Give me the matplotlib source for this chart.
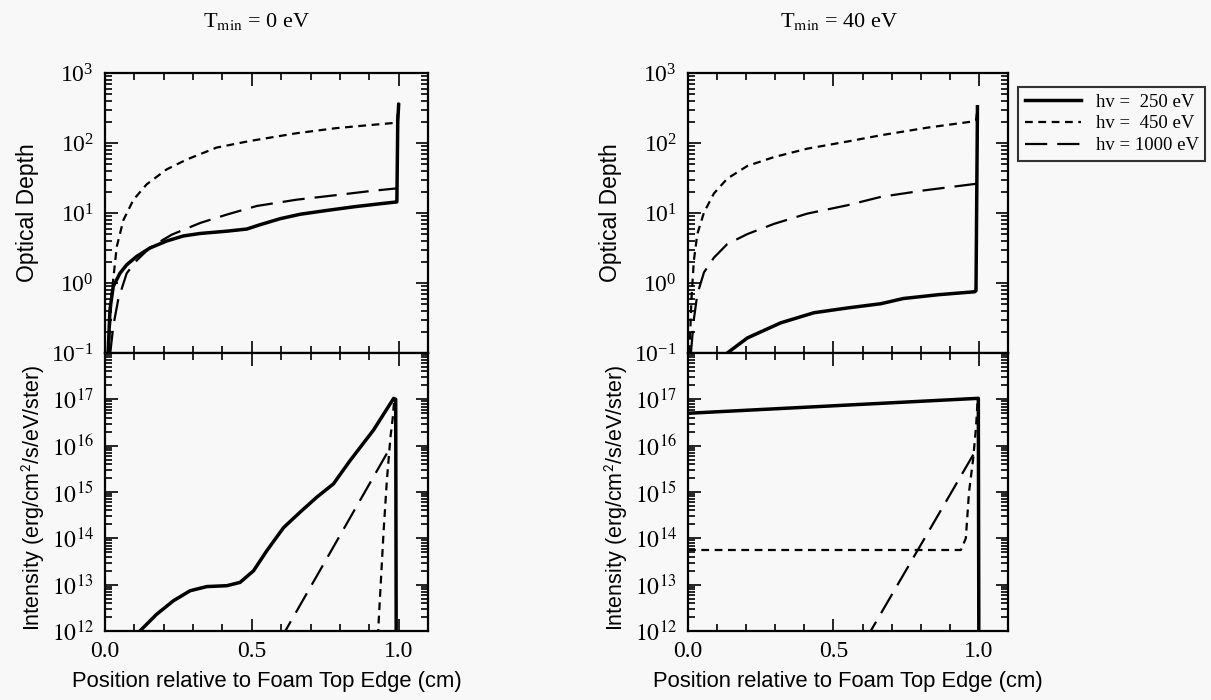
import numpy as np
import matplotlib
matplotlib.use('Agg')
import matplotlib.pyplot as plt
from matplotlib.ticker import LogLocator, MultipleLocator, LogFormatterMathtext, NullFormatter

plt.rcParams['font.family'] = 'serif'
plt.rcParams['font.serif'] = ['Liberation Serif', 'DejaVu Serif']
plt.rcParams['mathtext.fontset'] = 'stix'

# ---- data ----
# T_min = 0 eV, optical depth
x0_tau_250 = [0.006, 0.011, 0.017, 0.028, 0.051, 0.074, 0.108, 0.153, 0.21, 0.267, 0.324, 0.415, 0.483,
              0.528, 0.597, 0.665, 0.75, 0.85, 0.94, 0.994, 0.997, 1.0]
t0_tau_250 = [0.06, 0.11, 0.42, 0.89, 1.38, 1.82, 2.4, 3.16, 3.98, 4.7, 5.1, 5.5, 5.9,
              6.8, 8.3, 9.6, 10.8, 12.3, 13.6, 14.4, 200, 350]
x0_tau_450 = [0.012, 0.023, 0.04, 0.0625, 0.097, 0.142, 0.21, 0.278, 0.38, 0.494, 0.653, 0.787, 0.9, 0.994, 1.0]
t0_tau_450 = [0.1, 0.72, 3.3, 7.9, 15.5, 25.7, 42, 58, 86, 107, 138, 163, 180, 195, 380]
x0_tau_1000 = [0.018, 0.028, 0.045, 0.074, 0.108, 0.153, 0.227, 0.324, 0.415, 0.517, 0.653, 0.787, 0.9, 0.994]
t0_tau_1000 = [0.1, 0.24, 0.58, 1.38, 2.1, 3.2, 4.9, 7.2, 9.5, 12.6, 15.5, 18, 20.5, 22.5]

# T_min = 0 eV, intensity
x0_int_250 = [0.09, 0.119, 0.176, 0.233, 0.29, 0.347, 0.415, 0.46, 0.506, 0.551, 0.608, 0.665, 0.722,
              0.778, 0.835, 0.915, 0.983, 0.99, 0.992]
t0_int_250 = [5e11, 1.0e12, 2.3e12, 4.5e12, 7.4e12, 9.1e12, 9.5e12, 1.12e13, 2.0e13, 5.4e13, 1.7e14,
              3.7e14, 7.8e14, 1.5e15, 4.8e15, 2.2e16, 1.05e17, 1.0e17, 1e11]
x0_int_450 = [0.925, 0.932, 0.949, 0.96, 0.972, 0.98, 0.985]
t0_int_450 = [2e11, 1.6e12, 1.5e14, 1.8e15, 1.5e16, 4.0e16, 1.0e17]
x0_int_1000 = [0.6, 0.614, 0.96, 0.977]
t0_int_1000 = [6e11, 1e12, 6.8e15, 8.7e15]

# T_min = 40 eV, optical depth
x40_tau_250 = [0.12, 0.135, 0.204, 0.319, 0.433, 0.548, 0.663, 0.74, 0.86, 0.986, 0.99, 0.995]
t40_tau_250 = [0.085, 0.1, 0.164, 0.27, 0.376, 0.44, 0.506, 0.6, 0.68, 0.75, 0.78, 330]
x40_tau_450 = [0.005, 0.012, 0.02, 0.032, 0.055, 0.089, 0.135, 0.204, 0.296, 0.41, 0.548, 0.663, 0.82, 0.986, 0.99, 0.995]
t40_tau_450 = [0.1, 0.6, 2.07, 5.0, 10.2, 19, 31, 47, 63, 83, 105, 129, 165, 205, 210, 300]
x40_tau_1000 = [0.01, 0.02, 0.032, 0.055, 0.089, 0.135, 0.204, 0.296, 0.41, 0.548, 0.663, 0.81, 0.986, 0.99]
t40_tau_1000 = [0.1, 0.3, 0.69, 1.42, 2.3, 3.6, 5.0, 7.0, 9.8, 12.9, 17, 21, 26, 26]

# T_min = 40 eV, intensity
x40_int_250 = [0.0, 0.996, 0.998, 1.0]
t40_int_250 = [5e16, 1.05e17, 1.05e17, 1e11]
x40_int_450 = [0.0, 0.938, 0.955, 0.966, 0.98, 0.99, 0.996]
t40_int_450 = [5.6e13, 5.6e13, 1.0e14, 1.0e15, 5.0e15, 2.5e16, 1.0e17]
x40_int_1000 = [0.61, 0.628, 0.98, 0.99]
t40_int_1000 = [6e11, 1e12, 6.3e15, 8e15]

labels = ['hv =  250 eV', 'hv =  450 eV', 'hv = 1000 eV']
titles = [r'T$_{\rm min}$ = 0 eV', r'T$_{\rm min}$ = 40 eV']

styles = [dict(color='black', lw=2.5, ls='-'),
          dict(color='black', lw=1.6, dashes=(3.5, 2.5)),
          dict(color='black', lw=1.6, dashes=(10, 4.5))]

bg = '#f8f8f8'
fig = plt.figure(figsize=(12.11, 7.0), dpi=100, facecolor=bg)

W, H = 1211.0, 700.0
cols = [(105, 428), (688, 1008)]
top_y, mid_y, bot_y = 73, 353, 631

tau_data = [
    [(x0_tau_250, t0_tau_250), (x0_tau_450, t0_tau_450), (x0_tau_1000, t0_tau_1000)],
    [(x40_tau_250, t40_tau_250), (x40_tau_450, t40_tau_450), (x40_tau_1000, t40_tau_1000)],
]
int_data = [
    [(x0_int_250, t0_int_250), (x0_int_450, t0_int_450), (x0_int_1000, t0_int_1000)],
    [(x40_int_250, t40_int_250), (x40_int_450, t40_int_450), (x40_int_1000, t40_int_1000)],
]


def style_axis(ax):
    ax.set_facecolor(bg)
    ax.set_xlim(0, 1.1)
    ax.xaxis.set_major_locator(MultipleLocator(0.5))
    ax.xaxis.set_minor_locator(MultipleLocator(0.1))
    ax.yaxis.set_major_locator(LogLocator(base=10, numticks=20))
    ax.yaxis.set_minor_locator(LogLocator(base=10, subs=np.arange(2, 10), numticks=20))
    ax.yaxis.set_minor_formatter(NullFormatter())
    ax.tick_params(which='both', direction='in', top=True, right=True, width=1.2)
    ax.tick_params(which='major', length=9, labelsize=17)
    ax.tick_params(which='minor', length=5)
    ax.tick_params(axis='y', pad=8)
    ax.tick_params(axis='x', pad=7)
    for s in ax.spines.values():
        s.set_linewidth(1.6)


handles = []
for c, (x0, x1) in enumerate(cols):
    axt = fig.add_axes([x0 / W, 1 - mid_y / H, (x1 - x0) / W, (mid_y - top_y) / H])
    axb = fig.add_axes([x0 / W, 1 - bot_y / H, (x1 - x0) / W, (bot_y - mid_y) / H])
    for k in range(3):
        xs, ys = tau_data[c][k]
        h, = axt.plot(xs, ys, label=labels[k], **styles[k])
        if c == 1:
            handles.append(h)
        xs, ys = int_data[c][k]
        axb.plot(xs, ys, **styles[k])

    axt.set_yscale('log')
    axb.set_yscale('log')
    style_axis(axt)
    style_axis(axb)
    axt.set_ylim(0.1, 1000)
    axb.set_ylim(1e12, 1e18)
    axt.yaxis.set_major_formatter(LogFormatterMathtext())
    axb.set_yticks([1e12, 1e13, 1e14, 1e15, 1e16, 1e17, 1e18])
    axb.set_yticklabels([r'$10^{12}$', r'$10^{13}$', r'$10^{14}$', r'$10^{15}$',
                         r'$10^{16}$', r'$10^{17}$', ''])
    axb.yaxis.set_minor_locator(LogLocator(base=10, subs=np.arange(2, 10), numticks=20))
    axb.yaxis.set_minor_formatter(NullFormatter())
    axt.tick_params(axis='x', labelbottom=False)
    axb.set_xticks([0.0, 0.5, 1.0])
    axb.set_xticklabels(['0.0', '0.5', '1.0'])

    axt.set_ylabel('Optical Depth', family='Liberation Sans', fontsize=16.5)
    axt.yaxis.set_label_coords(-0.205, 0.5)
    axb.set_ylabel(r'Intensity (erg/cm$^{\mathsf{2}}$/s/eV/ster)', family='Liberation Sans', fontsize=15.5)
    axb.yaxis.set_label_coords(-0.18, 0.48)
    axb.set_xlabel('Position relative to Foam Top Edge (cm)', family='Liberation Sans',
                   fontsize=15.8, labelpad=7)

    fig.text([257, 839][c] / W, 1 - 22 / H, titles[c], ha='center', va='center', fontsize=16)

leg = fig.legend(handles=handles, loc='upper left', bbox_to_anchor=(1018 / W, 1 - 87 / H),
                 bbox_transform=fig.transFigure, borderaxespad=0, fontsize=13.5,
                 frameon=True, fancybox=False, handlelength=3.0, labelspacing=0.25,
                 borderpad=0.35, handletextpad=0.8)
leg.get_frame().set_edgecolor('black')
leg.get_frame().set_linewidth(1.5)
leg.get_frame().set_facecolor(bg)

fig.savefig('out.png', dpi=100, facecolor=bg)
